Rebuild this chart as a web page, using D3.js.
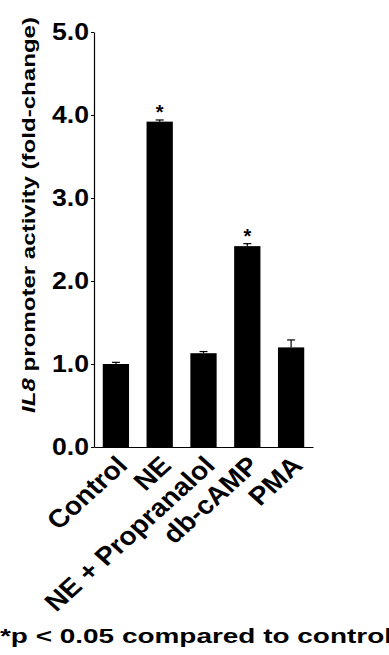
<!DOCTYPE html>
<html>
<head>
<meta charset="utf-8">
<script src="https://cdn.jsdelivr.net/npm/d3@7"></script>
<style>
  body { margin: 0; background: #fff; }
  svg { display: block; font-family: "Liberation Sans", Arial, sans-serif; }
</style>
</head>
<body>
<div id="container"></div>
<script>
/* DATA */
const categories = ["Control", "NE", "NE + Propranalol", "db-cAMP", "PMA"];
const foldChange = [1.0, 3.92, 1.13, 2.42, 1.2];
const errors = [0.02, 0.02, 0.02, 0.03, 0.09];
const significant = [false, true, false, true, false];
const yTicks = [0, 1, 2, 3, 4, 5];

/* CONSTANTS */
const width = 389, height = 655,
  margin = { top: 32, left: 94, right: 76, bottom: 208 };

const svg = d3.select("#container")
  .append("svg")
  .attr("width", width)
  .attr("height", height);

// SCALES
const x = d3.scaleBand()
  .domain(categories)
  .range([margin.left, width - margin.right])
  .paddingInner(0.4)
  .paddingOuter(0.2);

const y = d3.scaleLinear()
  .domain([0, 5])
  .range([height - margin.bottom, margin.top]);

// BARS
svg.selectAll("rect.bar")
  .data(categories)
  .join("rect")
  .attr("class", "bar")
  .attr("x", d => x(d))
  .attr("width", x.bandwidth())
  .attr("y", (d, i) => y(foldChange[i]))
  .attr("height", (d, i) => y(0) - y(foldChange[i]))
  .attr("fill", "#000");

// ERROR BARS
const err = svg.selectAll("g.err")
  .data(categories)
  .join("g")
  .attr("class", "err")
  .attr("stroke", "#000")
  .attr("stroke-width", 1.2);

err.append("line")
  .attr("x1", d => x(d) + x.bandwidth() / 2)
  .attr("x2", d => x(d) + x.bandwidth() / 2)
  .attr("y1", (d, i) => y(foldChange[i]))
  .attr("y2", (d, i) => y(foldChange[i] + errors[i]));

err.append("line")
  .attr("x1", d => x(d) + x.bandwidth() / 2 - 4)
  .attr("x2", d => x(d) + x.bandwidth() / 2 + 4)
  .attr("y1", (d, i) => y(foldChange[i] + errors[i]))
  .attr("y2", (d, i) => y(foldChange[i] + errors[i]));

// STARS
svg.selectAll("text.star")
  .data(categories.filter((d, i) => significant[i]))
  .join("text")
  .attr("class", "star")
  .attr("x", d => x(d) + x.bandwidth() / 2)
  .attr("y", d => y(foldChange[categories.indexOf(d)] + errors[categories.indexOf(d)]) - 1)
  .attr("text-anchor", "middle")
  .attr("font-size", 20)
  .attr("font-weight", "bold")
  .text("*");

// Y AXIS
const yAxis = svg.append("g")
  .attr("transform", `translate(${margin.left},0)`)
  .call(d3.axisLeft(y).tickValues(yTicks).tickFormat(d3.format(".1f")).tickSize(3).tickPadding(2).tickSizeOuter(0));

yAxis.select(".domain").attr("stroke-width", 1.2);
yAxis.selectAll("text")
  .attr("font-size", 24)
  .attr("font-weight", "bold")
  .attr("font-family", "Liberation Sans, Arial, sans-serif")
  .attr("fill", "#000")
  .attr("textLength", 37)
  .attr("lengthAdjust", "spacingAndGlyphs");

// X AXIS
const xAxis = svg.append("g")
  .attr("transform", `translate(0,${y(0)})`)
  .call(d3.axisBottom(x).tickSize(0).tickSizeOuter(0));

xAxis.select(".domain").attr("stroke-width", 1.2);
// the labels in the figure are a bit wider than they are tall, so stretch them
xAxis.selectAll("text")
  .attr("font-size", 25.5)
  .attr("font-weight", "bold")
  .attr("font-family", "Liberation Sans, Arial, sans-serif")
  .attr("fill", "#000")
  .attr("text-anchor", "end")
  .attr("dy", 0)
  .attr("y", 0)
  .attr("x", 0)
  .attr("transform", "translate(13,20) scale(1.1,1) rotate(-45)");

// Y TITLE
const title = svg.append("text")
  .attr("transform", "translate(35,215) rotate(-90)")
  .attr("text-anchor", "middle")
  .attr("font-size", 19)
  .attr("font-weight", "bold")
  .attr("textLength", 396)
  .attr("lengthAdjust", "spacingAndGlyphs");
title.append("tspan").attr("font-style", "italic").text("IL8");
title.append("tspan").text(" promoter activity (fold-change)");

// FOOTNOTE
svg.append("text")
  .attr("x", 0)
  .attr("y", 643)
  .attr("font-size", 21)
  .attr("font-weight", "bold")
  .attr("textLength", 392)
  .attr("lengthAdjust", "spacingAndGlyphs")
  .text("*p < 0.05 compared to control");
</script>
</body>
</html>
